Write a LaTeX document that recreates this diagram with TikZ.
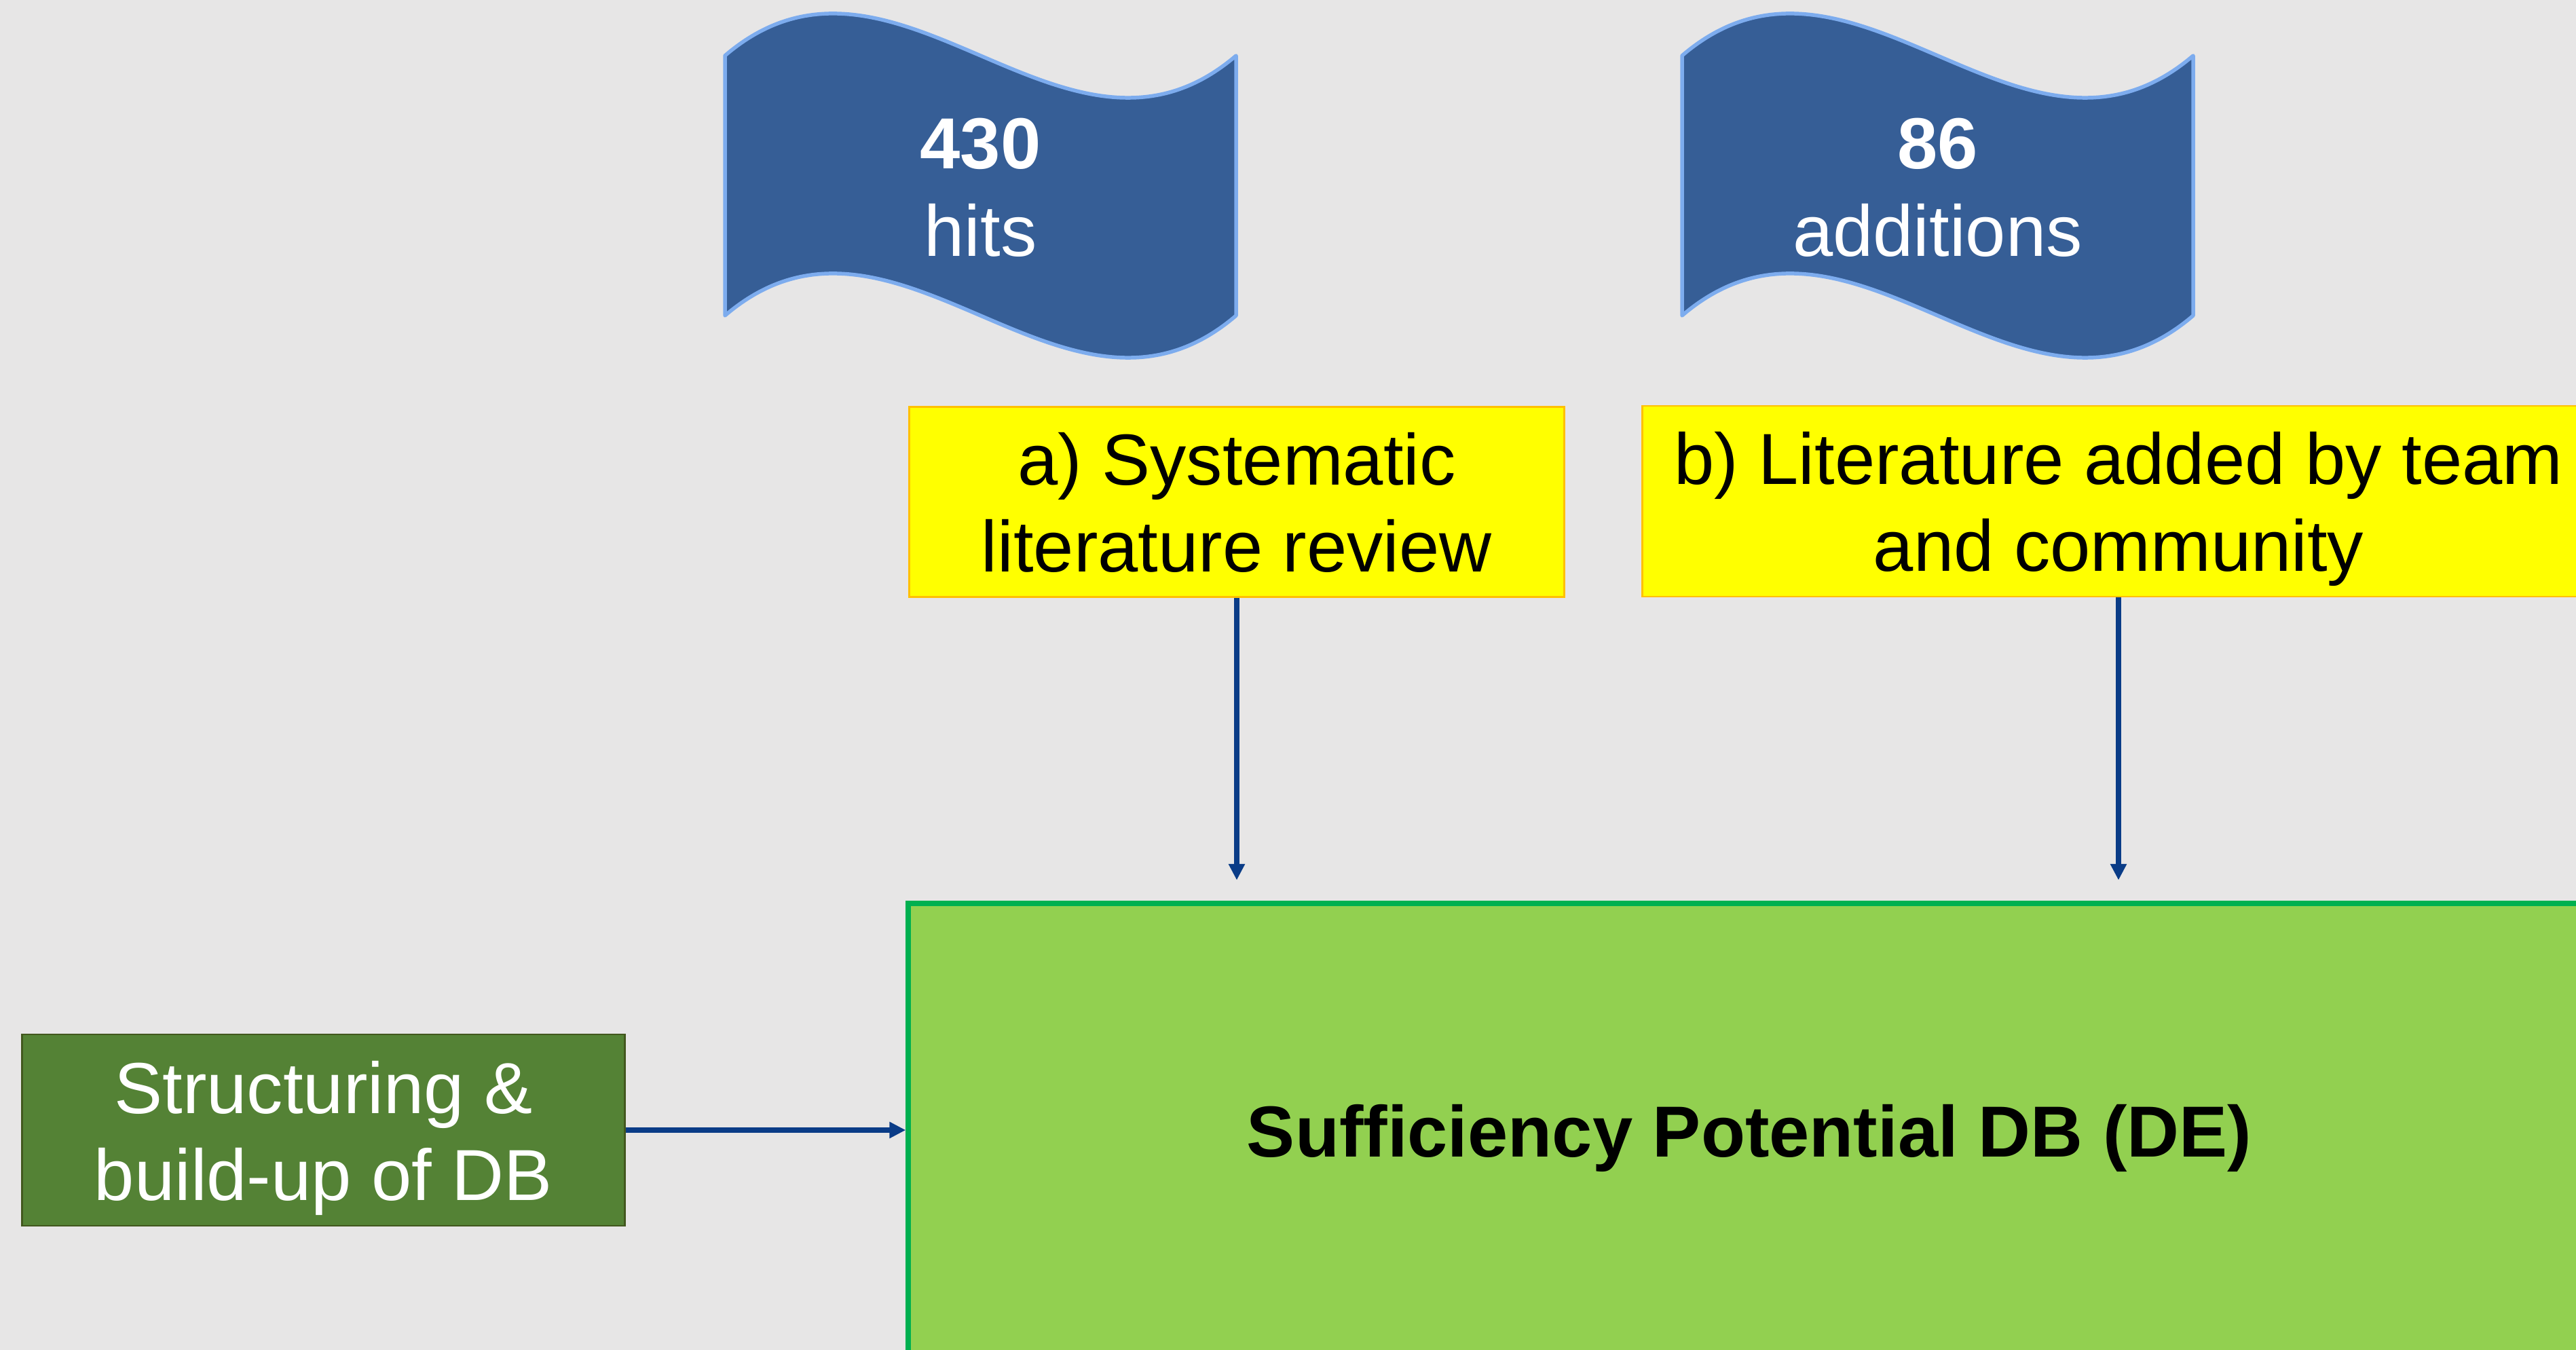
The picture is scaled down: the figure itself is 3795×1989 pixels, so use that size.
\documentclass[tikz,border=0pt]{standalone}
\usepackage{fontspec}
\setmainfont{Liberation Sans}
\usetikzlibrary{arrows.meta}

\definecolor{bg}{HTML}{E7E6E6}
\definecolor{flagfill}{RGB}{54,94,150}
\definecolor{flagline}{RGB}{125,172,238}
\definecolor{litfill}{HTML}{FFFF00}
\definecolor{litline}{HTML}{FFC000}
\definecolor{buildfill}{HTML}{548235}
\definecolor{buildline}{RGB}{66,88,30}
\definecolor{dbfill}{HTML}{92D050}
\definecolor{dbline}{HTML}{00B050}
\definecolor{arrowblue}{RGB}{10,60,135}

% fixed line height/depth so every text block centres the same way
\newcommand\linestrut{\rule[-0.223em]{0pt}{1.183em}}

\begin{document}
\begin{tikzpicture}[x=0.01cm,y=-0.01cm,
  every node/.style={font=\fontsize{30.3}{36.4}\selectfont, inner sep=0pt, align=center},
  litbox/.style={draw=litline, fill=litfill, line width=0.75pt, text=black},
  buildbox/.style={draw=buildline, fill=buildfill, line width=0.75pt, text=white},
  dbbox/.style={draw=dbline, fill=dbfill, line width=2.28pt, text=black},
  flagtext/.style={text=white},
  conn/.style={draw=arrowblue, line width=2.28pt,
    -{Triangle[length=0.24cm,width=0.23cm]}},
  wavyflag/.pic={
    \draw[fill=flagfill, draw=flagline, line width=1.56pt, line join=round]
      (-376.5,-191.5) .. controls (-125.5,-406.5) and (125.5,23.5) .. (376.5,-191.5)
      -- (376.5,191.5) .. controls (125.5,406.5) and (-125.5,-23.5) .. (-376.5,191.5)
      -- cycle;
  }
]
\useasboundingbox (0,0) rectangle (3795,1989);
\clip (0,0) rectangle (3795,1989);
\fill[bg] (0,0) rectangle (3795,1989);

% result flags
\pic at (1444.5,273.5) {wavyflag};
\pic at (2854.5,273.5) {wavyflag};
\node[flagtext] (hits) at (1444.5,273.75)
  {\linestrut\textbf{430}\\\linestrut hits};
\node[flagtext] (adds) at (2854.5,273.75)
  {\linestrut\textbf{86}\\\linestrut additions};

% literature sources
\node[litbox, minimum width=9.645cm, minimum height=2.80cm] (slr) at (1822,739.5)
  {\linestrut a) Systematic\\\linestrut literature review};
\node[litbox, minimum width=14.02cm, minimum height=2.81cm] (team) at (3121,738.5)
  {\linestrut b) Literature added by team\\\linestrut and community};

% database
\node[dbbox, minimum width=24.76cm, minimum height=6.68cm] (db) at (2577,1665)
  {\linestrut\textbf{Sufficiency Potential DB (DE)}};
\node[buildbox, minimum width=8.87cm, minimum height=2.82cm] (build) at (476.5,1665)
  {\linestrut Structuring \&\\\linestrut build-up of DB};

% connectors
\draw[conn, shorten >=0.30cm] (slr.south) -- (slr.south |- db.north);
\draw[conn, shorten >=0.30cm] (team.south) -- (team.south |- db.north);
\draw[conn] (build.east) -- (db.west);
\end{tikzpicture}
\end{document}
